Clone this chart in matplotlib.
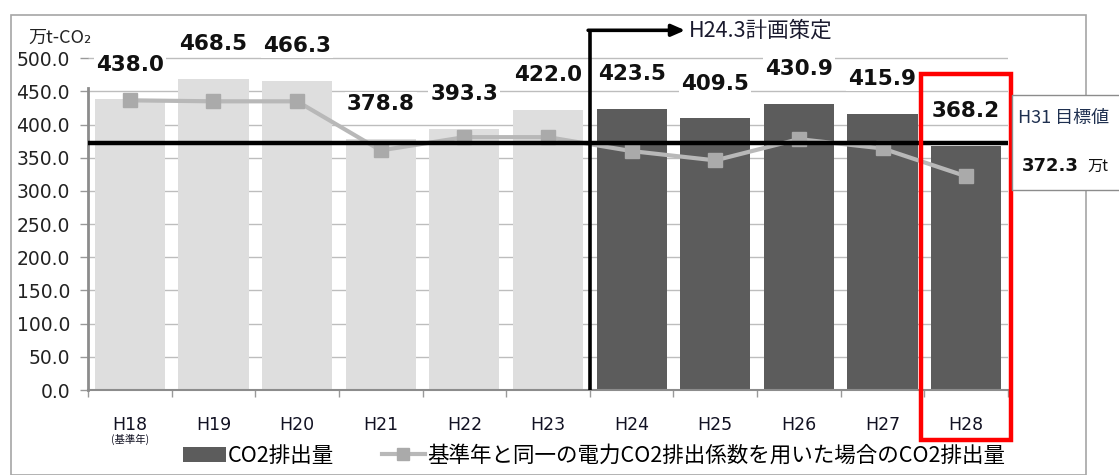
import matplotlib
matplotlib.use("Agg")
import matplotlib.pyplot as plt
from matplotlib.patches import Rectangle, Patch
from matplotlib.lines import Line2D
import numpy as np

plt.rcParams['font.family'] = ['Noto Sans CJK JP', 'DejaVu Sans']
NUMFONT = ['DejaVu Sans']

categories = ["H18", "H19", "H20", "H21", "H22", "H23", "H24", "H25", "H26", "H27", "H28"]
co2 = [438.0, 468.5, 466.3, 378.8, 393.3, 422.0, 423.5, 409.5, 430.9, 415.9, 368.2]
co2_fixed = [436.5, 435.0, 435.0, 361.0, 381.0, 381.0, 360.0, 346.0, 378.0, 364.0, 322.0]
target = 372.3
yticks = [0, 50, 100, 150, 200, 250, 300, 350, 400, 450, 500]
plan_index = 6  # H24

W, H = 1119, 475
fig = plt.figure(figsize=(W / 100, H / 100), dpi=100)

# outer chart frame
fig.patches.append(Rectangle((11 / W, 0), (1086 - 11) / W, 1 - 15 / H,
                             transform=fig.transFigure, fill=False,
                             edgecolor='#a6a6a6', lw=1.2, zorder=0))

ax = fig.add_axes([88 / W, 1 - 390 / H, (1008 - 88) / W, (390 - 25) / H])
ax.set_facecolor('none')
x = np.arange(len(categories))
colors = ['#dedede' if i < plan_index else '#5c5c5c' for i in range(len(categories))]
ax.bar(x, co2, width=0.84, color=colors, zorder=2)

ax.plot(x, co2_fixed, color='#b8b8b8', lw=3, marker='s', markersize=10,
        markerfacecolor='#aaaaaa', markeredgecolor='#aaaaaa', zorder=3)

ax.set_xlim(-0.5, len(categories) - 0.5)
ax.set_ylim(0, 550)
ax.set_yticks(yticks)
ax.set_yticklabels([f"{v:.1f}" for v in yticks], fontsize=13.5, color='#222222',
                   family=NUMFONT)
ax.tick_params(axis='y', length=6, width=1, color='#999999', pad=7)
for yv in yticks[1:]:
    ax.axhline(yv, color='#bdbdbd', lw=1, zorder=1)

ax.set_xticks(x)
ax.set_xticklabels(categories, fontsize=12.5, color='#111122', family=NUMFONT)
ax.tick_params(axis='x', length=0, pad=19)
ax.set_xticks(np.arange(-0.5, len(categories), 1), minor=True)
ax.tick_params(axis='x', which='minor', length=5, color='#999999', width=1)
ax.text(0, -74, "(基準年)", fontsize=7.5, ha='center', va='center', color='#111122')

for s in ['top', 'right']:
    ax.spines[s].set_visible(False)
ax.spines['left'].set_color('#8c8c8c')
ax.spines['left'].set_linewidth(2)
ax.spines['left'].set_bounds(0, 455)
ax.spines['bottom'].set_color('#8c8c8c')
ax.spines['bottom'].set_linewidth(1.5)

# data labels
for xi, v in zip(x, co2):
    ax.annotate(f"{v:.1f}", (xi, v), xytext=(0, 25), textcoords='offset points',
                ha='center', va='center', fontsize=15.5, fontweight='bold',
                family=NUMFONT, color='#111111', zorder=5,
                bbox=dict(boxstyle='square,pad=0.1', fc='white', ec='none'))

# target line
ax.plot([-0.5, len(categories) - 0.5], [target, target], color='black', lw=3.2, zorder=4,
        solid_capstyle='butt')

# plan arrow
ax.plot([plan_index - 0.5, plan_index - 0.5], [0, 542], color='black', lw=2.6,
        zorder=6, clip_on=False, solid_capstyle='butt')
ax.annotate("", xy=(plan_index + 0.64, 542), xytext=(plan_index - 0.52, 542),
            arrowprops=dict(arrowstyle='-|>,head_length=0.8,head_width=0.35',
                            color='black', lw=2.6, shrinkA=0, shrinkB=0),
            annotation_clip=False, zorder=6)
ax.text(plan_index + 0.68, 542, "H24.3計画策定", fontsize=15.5, va='center', ha='left',
        color='#1a1a2e', clip_on=False)

# red highlight box
ax.add_patch(Rectangle((9.46, -75), 10.54 - 9.46, 476 + 75, fill=False,
                       edgecolor='#ff0000', lw=3.2, clip_on=False, zorder=7))

# unit label
fig.text(28 / W, 1 - 38 / H, "万t-CO₂", fontsize=13, ha='left', va='center', color='#222222')

# target text box
fig.patches.append(Rectangle((1012 / W, 1 - 190 / H), 120 / W, 95 / H,
                             transform=fig.transFigure, facecolor='white',
                             edgecolor='#8c8c8c', lw=1, zorder=8))
fig.text(1018 / W, 1 - 118 / H, "H31 目標値", fontsize=13, ha='left', va='center',
         color='#1f3050', zorder=9)
fig.text(1022 / W, 1 - 166 / H, "372.3", fontsize=13, fontweight='bold', ha='left',
         va='center', color='#111111', zorder=9, family=NUMFONT)
fig.text(1087 / W, 1 - 166 / H, "万t", fontsize=11, ha='left', va='center',
         color='#111111', zorder=9)

# legend
handles = [Patch(facecolor='#5c5c5c', edgecolor='none'),
           Line2D([0], [0], color='#b8b8b8', lw=3, marker='s', markersize=9,
                  markerfacecolor='#aaaaaa', markeredgecolor='#aaaaaa')]
labels = ["CO2排出量", "基準年と同一の電力CO2排出係数を用いた場合のCO2排出量"]
fig.legend(handles, labels, loc='center', bbox_to_anchor=(594 / W, 1 - 456 / H),
           ncol=2, frameon=False, fontsize=15.5, handlelength=2.0, handleheight=0.75,
           columnspacing=2.2, handletextpad=0.1)

fig.savefig("out.png", dpi=100)
